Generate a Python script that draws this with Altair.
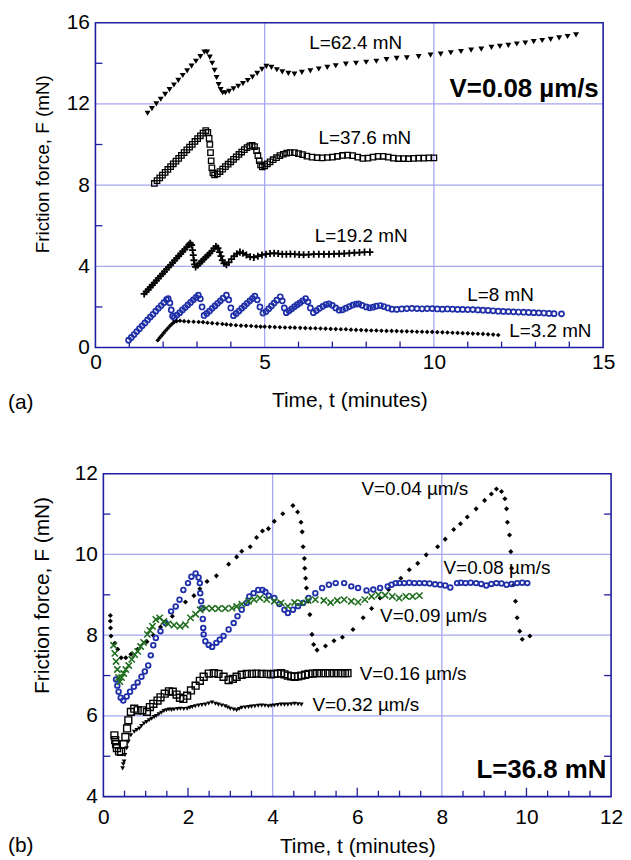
import altair as alt
import pandas as pd

FONT = "Liberation Sans"
AXIS_BLUE = "#1e1ea0"
GRID_BLUE = "#a6a6f2"
BLUE = "#1f2fa8"
GREEN = "#1f6e1f"

# ---------------- panel (a): V = 0.08 um/s, (t [min], F [mN]) ----------------
A_L62 = [(1.54, 11.54), (1.67, 11.77), (1.80, 12.0), (1.93, 12.23), (2.06, 12.47), (2.19, 12.7),
         (2.32, 12.93), (2.45, 13.16), (2.58, 13.4), (2.71, 13.63), (2.84, 13.86), (2.97, 14.1),
         (3.10, 14.33), (3.22, 14.55), (3.30, 14.55), (3.38, 14.3), (3.45, 14.0), (3.52, 13.65),
         (3.58, 13.3), (3.64, 12.95), (3.70, 12.7), (3.76, 12.55), (3.84, 12.55), (3.95, 12.62),
         (4.08, 12.74), (4.22, 12.87), (4.36, 13.0), (4.50, 13.15), (4.64, 13.32), (4.78, 13.5),
         (4.92, 13.7), (5.05, 13.85), (5.20, 13.8), (5.36, 13.68), (5.52, 13.58), (5.70, 13.5),
         (5.88, 13.47), (6.10, 13.55), (6.35, 13.63), (6.60, 13.72), (6.85, 13.8), (7.10, 13.88),
         (7.40, 13.96), (7.70, 14.0), (8.00, 14.05), (8.30, 14.1), (8.60, 14.18), (8.90, 14.24),
         (9.20, 14.27), (9.55, 14.33), (9.90, 14.4), (10.20, 14.45), (10.50, 14.52), (10.80, 14.58),
         (11.10, 14.65), (11.40, 14.7), (11.70, 14.78), (11.95, 14.83), (12.20, 14.88), (12.45, 14.95),
         (12.70, 15.0), (12.95, 15.07), (13.20, 15.12), (13.45, 15.18), (13.70, 15.25), (13.95, 15.32),
         (14.20, 15.4)]

A_L37 = [(1.74, 8.08), (1.82, 8.22), (1.90, 8.36), (1.98, 8.49), (2.06, 8.63), (2.14, 8.77),
         (2.22, 8.91), (2.30, 9.05), (2.38, 9.18), (2.46, 9.32), (2.54, 9.46), (2.62, 9.6),
         (2.70, 9.74), (2.78, 9.87), (2.86, 10.01), (2.94, 10.15), (3.02, 10.29), (3.10, 10.43),
         (3.18, 10.56), (3.26, 10.68), (3.32, 10.6), (3.36, 10.3), (3.38, 10.0), (3.40, 9.6),
         (3.42, 9.2), (3.44, 8.85), (3.47, 8.6), (3.52, 8.5), (3.60, 8.55), (3.68, 8.67),
         (3.76, 8.79), (3.84, 8.91), (3.92, 9.03), (4.00, 9.15), (4.08, 9.27), (4.16, 9.39),
         (4.24, 9.51), (4.32, 9.63), (4.40, 9.75), (4.48, 9.85), (4.56, 9.93), (4.63, 9.96),
         (4.70, 9.9), (4.76, 9.7), (4.80, 9.45), (4.84, 9.2), (4.88, 9.0), (4.93, 8.9),
         (5.00, 8.95), (5.08, 9.05), (5.16, 9.15), (5.25, 9.25), (5.35, 9.35), (5.45, 9.45),
         (5.55, 9.52), (5.65, 9.58), (5.75, 9.6), (5.88, 9.6), (6.00, 9.55), (6.12, 9.5),
         (6.25, 9.43), (6.40, 9.38), (6.55, 9.35), (6.70, 9.34), (6.85, 9.36), (7.00, 9.38),
         (7.15, 9.42), (7.30, 9.46), (7.45, 9.48), (7.60, 9.45), (7.75, 9.38), (7.90, 9.32),
         (8.05, 9.33), (8.20, 9.38), (8.35, 9.42), (8.50, 9.42), (8.65, 9.38), (8.80, 9.33),
         (8.95, 9.31), (9.10, 9.31), (9.25, 9.3), (9.40, 9.32), (9.55, 9.33), (9.70, 9.33),
         (9.85, 9.34), (10.00, 9.34)]

A_L19 = [(1.44, 2.64), (1.50, 2.75), (1.56, 2.86), (1.62, 2.97), (1.68, 3.08), (1.74, 3.19),
         (1.80, 3.30), (1.86, 3.41), (1.92, 3.52), (1.98, 3.63), (2.04, 3.74), (2.10, 3.85),
         (2.16, 3.96), (2.22, 4.07), (2.28, 4.18), (2.34, 4.29), (2.40, 4.40), (2.46, 4.51),
         (2.52, 4.62), (2.58, 4.73), (2.64, 4.84), (2.70, 4.95), (2.76, 5.06), (2.80, 5.14),
         (2.84, 5.05), (2.87, 4.8), (2.89, 4.55), (2.91, 4.3), (2.93, 4.1), (2.96, 3.97),
         (3.02, 4.05), (3.08, 4.15), (3.14, 4.25), (3.20, 4.35), (3.26, 4.45), (3.32, 4.55),
         (3.38, 4.65), (3.44, 4.75), (3.50, 4.88), (3.56, 4.98), (3.62, 4.9), (3.67, 4.7),
         (3.71, 4.5), (3.75, 4.3), (3.80, 4.15), (3.87, 4.08), (3.94, 4.2), (4.02, 4.35),
         (4.10, 4.5), (4.18, 4.62), (4.27, 4.7), (4.36, 4.65), (4.46, 4.56), (4.57, 4.47),
         (4.68, 4.44), (4.80, 4.5), (4.92, 4.56), (5.04, 4.6), (5.16, 4.63), (5.28, 4.65),
         (5.40, 4.63), (5.52, 4.6), (5.64, 4.6), (5.76, 4.61), (5.89, 4.6), (6.02, 4.58),
         (6.15, 4.57), (6.30, 4.58), (6.45, 4.6), (6.60, 4.6), (6.75, 4.6), (6.90, 4.6),
         (7.05, 4.61), (7.20, 4.62), (7.35, 4.63), (7.50, 4.65), (7.65, 4.67), (7.80, 4.68),
         (7.95, 4.7), (8.11, 4.7)]

A_L8 = [(0.98, 0.36), (1.06, 0.5), (1.14, 0.64), (1.22, 0.79), (1.30, 0.93), (1.38, 1.07),
        (1.46, 1.21), (1.54, 1.36), (1.62, 1.5), (1.70, 1.64), (1.78, 1.79), (1.86, 1.93),
        (1.94, 2.07), (2.02, 2.21), (2.10, 2.36), (2.15, 2.41), (2.20, 2.2), (2.24, 1.85),
        (2.28, 1.55), (2.33, 1.47), (2.41, 1.6), (2.49, 1.72), (2.57, 1.85), (2.65, 1.97),
        (2.73, 2.1), (2.81, 2.22), (2.89, 2.35), (2.97, 2.47), (3.04, 2.58), (3.10, 2.4),
        (3.15, 2.0), (3.21, 1.58), (3.29, 1.68), (3.37, 1.8), (3.45, 1.93), (3.53, 2.05),
        (3.61, 2.18), (3.69, 2.3), (3.77, 2.43), (3.87, 2.58), (3.94, 2.35), (4.00, 1.95),
        (4.08, 1.57), (4.16, 1.68), (4.24, 1.8), (4.32, 1.93), (4.40, 2.05), (4.48, 2.18),
        (4.56, 2.3), (4.64, 2.42), (4.71, 2.53), (4.78, 2.35), (4.86, 2.0), (4.95, 1.7),
        (5.04, 1.77), (5.12, 1.91), (5.20, 2.05), (5.28, 2.19), (5.36, 2.33), (5.46, 2.5),
        (5.52, 2.3), (5.58, 1.95), (5.64, 1.72), (5.72, 1.81), (5.80, 1.91), (5.88, 2.01),
        (5.96, 2.11), (6.04, 2.2), (6.12, 2.3), (6.21, 2.41), (6.28, 2.25), (6.35, 1.95),
        (6.44, 1.72), (6.53, 1.82), (6.62, 1.93), (6.72, 2.03), (6.81, 2.12), (6.90, 2.15),
        (7.00, 2.08), (7.10, 1.95), (7.20, 1.84), (7.30, 1.86), (7.40, 1.94), (7.50, 2.02),
        (7.60, 2.09), (7.70, 2.14), (7.78, 2.15), (7.88, 2.08), (8.00, 2.0), (8.10, 1.96),
        (8.20, 1.99), (8.30, 2.04), (8.42, 2.07), (8.52, 2.02), (8.64, 1.95), (8.76, 1.89),
        (8.90, 1.88), (9.05, 1.9), (9.20, 1.92), (9.35, 1.93), (9.50, 1.92), (9.65, 1.91),
        (9.80, 1.92), (9.95, 1.92), (10.10, 1.9), (10.25, 1.89), (10.40, 1.9), (10.55, 1.89),
        (10.70, 1.88), (10.85, 1.88), (11.00, 1.87), (11.15, 1.87), (11.30, 1.85), (11.45, 1.84),
        (11.60, 1.83), (11.75, 1.81), (11.90, 1.79), (12.05, 1.78), (12.20, 1.77), (12.35, 1.76),
        (12.50, 1.75), (12.65, 1.74), (12.80, 1.73), (12.95, 1.72), (13.10, 1.71), (13.25, 1.7),
        (13.40, 1.68), (13.55, 1.67), (13.77, 1.66)]

A_L3 = [(1.84, 0.36), (1.90, 0.48), (1.96, 0.6), (2.02, 0.72), (2.08, 0.84), (2.14, 0.95),
        (2.20, 1.06), (2.26, 1.16), (2.32, 1.25), (2.40, 1.3), (2.50, 1.32), (2.62, 1.3),
        (2.75, 1.28), (2.90, 1.27), (3.05, 1.26), (3.18, 1.25), (3.31, 1.22), (3.45, 1.2),
        (3.60, 1.18), (3.75, 1.16), (3.87, 1.14), (4.00, 1.12), (4.15, 1.1), (4.30, 1.08),
        (4.45, 1.07), (4.60, 1.06), (4.75, 1.04), (4.88, 1.03), (5.00, 1.03), (5.15, 1.02),
        (5.30, 1.01), (5.45, 1.0), (5.60, 0.99), (5.75, 0.99), (5.89, 0.98), (6.05, 0.97),
        (6.20, 0.96), (6.35, 0.95), (6.50, 0.95), (6.65, 0.94), (6.80, 0.93), (6.95, 0.92),
        (7.10, 0.91), (7.25, 0.9), (7.40, 0.9), (7.55, 0.88), (7.70, 0.87), (7.85, 0.86),
        (8.00, 0.85), (8.15, 0.84), (8.30, 0.84), (8.45, 0.83), (8.60, 0.82), (8.75, 0.82),
        (8.90, 0.81), (9.05, 0.8), (9.20, 0.8), (9.35, 0.79), (9.50, 0.78), (9.65, 0.78),
        (9.80, 0.77), (9.95, 0.77), (10.10, 0.76), (10.25, 0.75), (10.40, 0.74), (10.55, 0.73),
        (10.70, 0.72), (10.85, 0.71), (11.00, 0.7), (11.15, 0.69), (11.30, 0.68), (11.45, 0.67),
        (11.60, 0.65), (11.75, 0.64), (11.90, 0.62)]

# ---------------- panel (b): L = 36.8 mN ----------------
B_V04 = [(0.165, 8.49), (0.165, 8.35), (0.17, 8.18), (0.18, 7.98), (0.27, 7.8), (0.34, 7.65),
         (0.42, 7.44), (0.53, 7.44), (0.65, 7.53), (0.81, 7.65), (1.03, 7.84), (1.18, 8.0),
         (1.35, 8.2), (1.63, 8.47), (1.94, 8.82), (2.14, 8.98), (2.28, 9.15), (2.45, 9.33),
         (2.67, 9.47), (2.96, 9.76), (3.15, 9.94), (3.27, 10.08), (3.47, 10.19), (3.62, 10.42),
         (3.76, 10.58), (3.90, 10.64), (4.04, 10.82), (4.24, 11.01), (4.48, 11.21), (4.59, 11.05),
         (4.67, 10.8), (4.70, 10.56), (4.72, 10.19), (4.75, 9.9), (4.76, 9.66), (4.78, 9.41),
         (4.80, 9.17), (4.84, 8.84), (4.88, 8.51), (4.93, 8.02), (4.97, 7.77), (5.05, 7.63),
         (5.25, 7.73), (5.45, 7.86), (5.65, 7.95), (5.90, 8.14), (6.14, 8.43), (6.34, 8.66),
         (6.54, 8.92), (6.74, 9.13), (7.03, 9.41), (7.23, 9.62), (7.43, 9.78), (7.63, 9.99),
         (7.90, 10.19), (8.08, 10.38), (8.28, 10.62), (8.44, 10.76), (8.60, 10.93), (8.81, 11.13),
         (9.01, 11.34), (9.17, 11.5), (9.29, 11.62), (9.41, 11.56), (9.49, 11.38), (9.53, 11.13),
         (9.55, 10.8), (9.60, 10.48), (9.63, 10.07), (9.65, 9.66), (9.70, 9.25), (9.74, 8.84),
         (9.78, 8.43), (9.84, 8.1), (9.90, 7.9), (10.08, 7.98)]

B_V08 = [(0.30, 6.9), (0.33, 6.75), (0.36, 6.6), (0.41, 6.45), (0.47, 6.38), (0.55, 6.48),
         (0.63, 6.6), (0.72, 6.72), (0.81, 6.83), (0.90, 6.97), (0.98, 7.1), (1.06, 7.25),
         (1.12, 7.5), (1.18, 7.75), (1.24, 7.93), (1.35, 8.1), (1.47, 8.3), (1.60, 8.59),
         (1.71, 8.71), (1.80, 8.88), (1.89, 9.12), (2.00, 9.29), (2.08, 9.45), (2.18, 9.53),
         (2.25, 9.43), (2.28, 9.29), (2.29, 9.04), (2.31, 8.84), (2.33, 8.67), (2.35, 8.4),
         (2.36, 8.18), (2.37, 8.02), (2.41, 7.85), (2.49, 7.76), (2.57, 7.71), (2.67, 7.81),
         (2.75, 7.89), (2.84, 7.98), (2.96, 8.14), (3.08, 8.3), (3.17, 8.47), (3.27, 8.63),
         (3.39, 8.8), (3.45, 8.96), (3.55, 9.04), (3.66, 9.12), (3.76, 9.12), (3.83, 9.07),
         (3.91, 8.98), (4.04, 8.92), (4.16, 8.77), (4.28, 8.63), (4.36, 8.55), (4.48, 8.63),
         (4.60, 8.72), (4.72, 8.8), (4.85, 8.92), (5.01, 9.04), (5.17, 9.17), (5.33, 9.25),
         (5.49, 9.29), (5.69, 9.29), (5.86, 9.21), (6.02, 9.17), (6.22, 9.11), (6.38, 9.13),
         (6.54, 9.17), (6.72, 9.21), (6.81, 9.25), (6.91, 9.29), (7.00, 9.29), (7.11, 9.29),
         (7.23, 9.3), (7.35, 9.29), (7.47, 9.29), (7.59, 9.29), (7.71, 9.28), (7.84, 9.26),
         (7.96, 9.25), (8.08, 9.23), (8.20, 9.18), (8.36, 9.29), (8.45, 9.3), (8.56, 9.29),
         (8.68, 9.3), (8.81, 9.29), (8.93, 9.27), (9.05, 9.23), (9.17, 9.27), (9.29, 9.29),
         (9.41, 9.28), (9.53, 9.25), (9.65, 9.27), (9.78, 9.29), (9.90, 9.3), (10.02, 9.29)]

B_V09 = [(0.24, 7.75), (0.27, 7.55), (0.30, 7.35), (0.33, 7.15), (0.36, 6.95), (0.39, 6.85),
         (0.43, 6.95), (0.48, 7.05), (0.53, 7.15), (0.60, 7.25), (0.67, 7.4), (0.74, 7.52),
         (0.81, 7.6), (0.88, 7.72), (0.95, 7.82), (1.04, 8.02), (1.10, 8.12), (1.16, 8.22),
         (1.24, 8.39), (1.33, 8.43), (1.43, 8.34), (1.53, 8.28), (1.67, 8.25), (1.81, 8.22),
         (1.94, 8.26), (2.06, 8.43), (2.18, 8.52), (2.29, 8.63), (2.43, 8.67), (2.57, 8.66),
         (2.72, 8.66), (2.88, 8.66), (3.04, 8.67), (3.15, 8.71), (3.27, 8.77), (3.43, 8.84),
         (3.56, 8.88), (3.70, 8.92), (3.86, 8.88), (4.04, 8.84), (4.20, 8.8), (4.36, 8.72),
         (4.52, 8.81), (4.68, 8.8), (4.84, 8.86), (5.01, 8.88), (5.21, 8.86), (5.37, 8.81),
         (5.53, 8.86), (5.69, 8.88), (5.86, 8.84), (6.02, 8.82), (6.18, 8.88), (6.34, 8.96),
         (6.50, 9.0), (6.66, 8.99), (6.83, 8.96), (6.99, 8.92), (7.15, 8.96), (7.31, 8.96),
         (7.47, 8.98)]

B_V16 = [(0.26, 5.52), (0.28, 5.4), (0.30, 5.3), (0.32, 5.2), (0.37, 5.12), (0.42, 5.11),
         (0.48, 5.3), (0.52, 5.48), (0.56, 5.69), (0.59, 5.89), (0.65, 6.1), (0.73, 6.18),
         (0.81, 6.14), (0.92, 6.14), (1.03, 6.1), (1.10, 6.22), (1.18, 6.3), (1.28, 6.38),
         (1.35, 6.46), (1.45, 6.55), (1.55, 6.61), (1.64, 6.6), (1.73, 6.53), (1.81, 6.45),
         (1.89, 6.42), (1.98, 6.5), (2.07, 6.63), (2.18, 6.75), (2.28, 6.87), (2.37, 6.97),
         (2.49, 7.05), (2.61, 7.06), (2.72, 7.04), (2.84, 6.97), (2.96, 6.89), (3.06, 6.92),
         (3.15, 6.97), (3.27, 7.02), (3.39, 7.04), (3.51, 7.04), (3.62, 7.05), (3.74, 7.04),
         (3.86, 7.04), (3.96, 7.03), (4.04, 7.04), (4.12, 7.05), (4.20, 7.06), (4.28, 7.03),
         (4.36, 7.0), (4.44, 6.98), (4.52, 6.97), (4.60, 6.98), (4.68, 7.0), (4.77, 7.02),
         (4.85, 7.04), (4.95, 7.05), (5.05, 7.06), (5.15, 7.06), (5.25, 7.06), (5.35, 7.06),
         (5.45, 7.06), (5.55, 7.06), (5.65, 7.06), (5.71, 7.06), (5.77, 7.06)]

B_V32 = [(0.455, 4.7), (0.47, 4.8), (0.49, 4.87), (0.51, 5.03), (0.55, 5.2), (0.59, 5.36),
         (0.65, 5.52), (0.73, 5.61), (0.79, 5.65), (0.85, 5.69), (0.90, 5.75), (0.96, 5.81),
         (1.02, 5.85), (1.08, 5.89), (1.14, 5.93), (1.20, 5.97), (1.25, 6.0), (1.31, 6.04),
         (1.37, 6.08), (1.43, 6.12), (1.49, 6.14), (1.55, 6.16), (1.61, 6.15), (1.67, 6.16),
         (1.75, 6.17), (1.82, 6.18), (1.90, 6.17), (1.98, 6.18), (2.04, 6.2), (2.10, 6.22),
         (2.17, 6.24), (2.25, 6.26), (2.33, 6.27), (2.41, 6.28), (2.49, 6.31), (2.57, 6.33),
         (2.65, 6.3), (2.72, 6.28), (2.80, 6.26), (2.88, 6.24), (2.94, 6.21), (3.00, 6.18),
         (3.08, 6.16), (3.15, 6.14), (3.21, 6.17), (3.27, 6.2), (3.35, 6.21), (3.43, 6.22),
         (3.50, 6.23), (3.58, 6.24), (3.66, 6.25), (3.74, 6.26), (3.82, 6.25), (3.90, 6.24),
         (3.97, 6.25), (4.04, 6.26), (4.12, 6.27), (4.20, 6.28), (4.28, 6.28), (4.36, 6.28),
         (4.44, 6.29), (4.52, 6.3), (4.60, 6.29), (4.68, 6.28)]

# annotations: (t, F, text)
A_LABELS = [(7.69, 15.0, "L=62.4 mN"), (7.96, 10.3, "L=37.6 mN"), (7.85, 5.51, "L=19.2 mN"),
            (11.97, 2.61, "L=8 mN"), (13.44, 0.81, "L=3.2 mN")]
A_BOLD = [(14.87, 12.73, "V=0.08 µm/s")]
B_LABELS = [(6.10, 11.62, "V=0.04 µm/s"), (8.04, 9.66, "V=0.08 µm/s"), (6.54, 8.48, "V=0.09 µm/s"),
            (6.06, 7.04, "V=0.16 µm/s"), (4.94, 6.26, "V=0.32 µm/s")]
B_BOLD = [(11.89, 4.67, "L=36.8 mN")]

A_X_TICKS = [0, 5, 10, 15]
A_Y_TICKS = [0, 4, 8, 12, 16]
A_X_MINOR = [1, 2, 3, 4, 6, 7, 8, 9, 11, 12, 13, 14]
A_Y_MINOR = [2, 6, 10, 14]
B_X_TICKS = [0, 2, 4, 6, 8, 10, 12]
B_Y_TICKS = [4, 6, 8, 10, 12]
B_X_MINOR = [0.5, 1, 1.5, 2.5, 3, 3.5, 4.5, 5, 5.5, 6.5, 7, 7.5, 8.5, 9, 9.5, 10.5, 11, 11.5]
B_X_MID = [2, 6, 10]
B_Y_MINOR = [5, 7, 9, 11]

PLUS = "M-1,0L1,0M0,-1L0,1"
XMARK = "M-1,-1L1,1M-1,1L1,-1"


def series_df(pairs):
    return pd.DataFrame(pairs, columns=["t", "F"])


def label_df(items):
    return pd.DataFrame(items, columns=["t", "F", "label"])


def make_panel(x0, x1, H, xdom, ydom, xticks, yticks, xgrid, ygrid, series, labels, label_align,
               bold, xminor, yminor, xmid, right_ticks, tag, tag_x, tag_y,
               x_label_pad, x_title_y, y_label_pad, y_title_x, y_title_y, y_title_size):
    # x0..x1: pixel extent of the plot frame relative to the view origin
    xenc = alt.X("t:Q", scale=alt.Scale(domain=xdom, range=[x0, x1], nice=False, zero=False),
                 axis=alt.Axis(values=xticks, grid=False, ticks=False, domain=False,
                               labelFont=FONT, labelFontSize=21, labelColor="black",
                               labelPadding=x_label_pad, labelFlush=False, labelOverlap=False,
                               title="Time, t (minutes)", titleFont=FONT, titleFontSize=21,
                               titleFontWeight="normal", titleColor="black",
                               titleBaseline="middle", titleX=(x0 + x1) / 2, titleY=x_title_y))
    yenc = alt.Y("F:Q", scale=alt.Scale(domain=ydom, nice=False, zero=False),
                 axis=alt.Axis(values=yticks, grid=False, ticks=False, domain=False,
                               labelFont=FONT, labelFontSize=21, labelColor="black",
                               labelPadding=y_label_pad, labelFlush=False, labelOverlap=False,
                               title="Friction force, F (mN)", titleFont=FONT,
                               titleFontSize=y_title_size,
                               titleFontWeight="normal", titleColor="black",
                               titleBaseline="middle", titleX=y_title_x, titleY=y_title_y))
    layers = []
    # grid lines
    layers.append(alt.Chart(pd.DataFrame({"t": xgrid})).mark_rule(color=GRID_BLUE, strokeWidth=1.3)
                  .encode(x=xenc, y=alt.value(0), y2=alt.value(H)))
    layers.append(alt.Chart(pd.DataFrame({"F": ygrid})).mark_rule(color=GRID_BLUE, strokeWidth=1.3)
                  .encode(y=yenc, x=alt.value(x0), x2=alt.value(x1)))
    # inward minor ticks
    layers.append(alt.Chart(pd.DataFrame({"t": xminor})).mark_rule(color=AXIS_BLUE, strokeWidth=1.3)
                  .encode(x=xenc, y=alt.value(H), y2=alt.value(H - 6)))
    if xmid:
        layers.append(alt.Chart(pd.DataFrame({"t": xmid})).mark_rule(color=AXIS_BLUE, strokeWidth=1.3)
                      .encode(x=xenc, y=alt.value(H), y2=alt.value(H - 9)))
    layers.append(alt.Chart(pd.DataFrame({"F": yminor})).mark_rule(color=AXIS_BLUE, strokeWidth=1.3)
                  .encode(y=yenc, x=alt.value(x0), x2=alt.value(x0 + 7)))
    if right_ticks:
        layers.append(alt.Chart(pd.DataFrame({"F": yminor})).mark_rule(color=AXIS_BLUE, strokeWidth=1.3)
                      .encode(y=yenc, x=alt.value(x1 - 7), x2=alt.value(x1)))
    # data series
    for pairs, mark in series:
        layers.append(alt.Chart(series_df(pairs)).mark_point(opacity=1, **mark)
                      .encode(x=xenc, y=yenc))
    # frame
    layers.append(alt.Chart(pd.DataFrame({"k": [0]})).mark_rect(filled=False, stroke=AXIS_BLUE,
                                                                 strokeWidth=1.6)
                  .encode(x=alt.value(x0), x2=alt.value(x1), y=alt.value(0), y2=alt.value(H)))
    # annotations
    layers.append(alt.Chart(label_df(labels)).mark_text(font=FONT, fontSize=19, align=label_align,
                                                        baseline="middle", color="black")
                  .encode(x=xenc, y=yenc, text="label:N"))
    layers.append(alt.Chart(label_df(bold)).mark_text(font=FONT, fontSize=26, fontWeight="bold",
                                                      align="right", baseline="middle", color="black")
                  .encode(x=xenc, y=yenc, text="label:N"))
    layers.append(alt.Chart(pd.DataFrame({"label": [tag]})).mark_text(font=FONT, fontSize=21,
                                                                     align="left", baseline="middle",
                                                                     color="black")
                  .encode(x=alt.value(tag_x), y=alt.value(tag_y), text="label:N"))
    return alt.layer(*layers).properties(width=x1, height=H)


tri = dict(shape="triangle-down", filled=True, color="black", size=36)
sq_a = dict(shape="square", filled=False, color="black", size=30, strokeWidth=1.3)
plus = dict(shape=PLUS, filled=False, color="black", size=50, strokeWidth=1.8)
circ_a = dict(shape="circle", filled=False, color=BLUE, size=26, strokeWidth=1.7)
dia_a = dict(shape="diamond", filled=True, color="black", size=22)

panel_a = make_panel(
    -8, 503, 327, [0, 15], [0, 16], A_X_TICKS, A_Y_TICKS, [5, 10], [4, 8, 12],
    [(A_L62, tri), (A_L37, sq_a), (A_L19, plus), (A_L8, circ_a), (A_L3, dia_a)],
    A_LABELS, "center", A_BOLD, A_X_MINOR, A_Y_MINOR, [], False,
    "(a)", -96, 383, 4, 53, 14, -61, 142, 19)

dia_b = dict(shape="diamond", filled=True, color="black", size=26)
circ_b = dict(shape="circle", filled=False, color=BLUE, size=22, strokeWidth=1.8)
xmark = dict(shape=XMARK, filled=False, color=GREEN, size=40, strokeWidth=1.6)
sq_b = dict(shape="square", filled=False, color="black", size=48, strokeWidth=1.4)
tri_b = dict(shape="triangle-down", filled=True, color="black", size=22)

panel_b = make_panel(
    0, 511, 325, [0, 12], [4, 12], B_X_TICKS, B_Y_TICKS, [4, 8], [6, 8, 10],
    [(B_V04, dia_b), (B_V08, circ_b), (B_V09, xmark), (B_V16, sq_b), (B_V32, tri_b)],
    B_LABELS, "left", B_BOLD, B_X_MINOR, B_Y_MINOR, B_X_MID, True,
    "(b)", -96, 375, 10, 50, 6, -61, 122, 21)

chart = alt.concat(panel_a, panel_b, columns=1, spacing=50).properties(
    padding={"left": 0, "top": 1, "right": 0, "bottom": 0}
).configure_view(stroke=None)

chart.save("out.html", embed_options={"renderer": "svg", "actions": False})
